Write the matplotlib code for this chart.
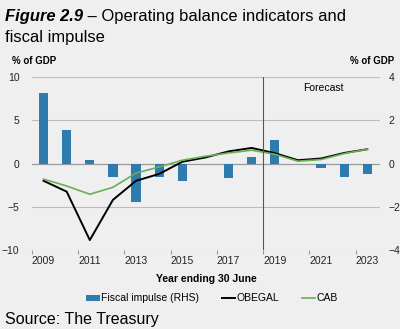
import numpy as np
import matplotlib.pyplot as plt

plt.rcParams['font.family'] = ['Liberation Sans', 'DejaVu Sans']

# --- données ---
annees = [2009, 2010, 2011, 2012, 2013, 2014, 2015, 2016,
          2017, 2018, 2019, 2020, 2021, 2022, 2023]
impulsion = [3.28, 1.57, 0.18, -0.62, -1.77, -0.62, -0.80, 0.0,
             -0.69, 0.31, 1.08, 0.0, -0.20, -0.62, -0.50]      # % PIB (axe droit)
obegal = [-2.0, -3.25, -8.85, -4.2, -2.0, -1.2, 0.2, 0.7,
          1.4, 1.8, 1.2, 0.38, 0.58, 1.22, 1.65]               # % PIB (axe gauche)
cab = [-1.8, -2.6, -3.55, -2.75, -1.1, -0.4, 0.38, 0.84,
       1.22, 1.54, 1.07, 0.27, 0.46, 1.15, 1.65]
ticks_annees = [2009, 2011, 2013, 2015, 2017, 2019, 2021, 2023]

fond = '#EFEFEF'
bleu = '#2E7BAE'
vert = '#6AAE55'
grille = '#BDBDBD'

fig = plt.figure(figsize=(4.0, 3.29), dpi=100, facecolor=fond)
ax = fig.add_axes([0.08, 0.24, 0.87, 0.526])
ax2 = ax.twinx()

# barres sur l'axe droit
ax2.bar(annees, impulsion, width=0.4, color=bleu, label='Fiscal impulse (RHS)')
ax2.set_ylim(-4, 4)
ax2.set_yticks([-4, -2, 0, 2, 4])

# lignes sur l'axe gauche (devant les barres)
ax.set_zorder(ax2.get_zorder() + 1)
ax.patch.set_visible(False)
ax2.set_facecolor(fond)
ax.plot(annees, obegal, color='black', lw=1.4, label='OBEGAL')
ax.plot(annees, cab, color=vert, lw=1.2, label='CAB')
ax.set_ylim(-10, 10)
ax.set_yticks([-10, -5, 0, 5, 10])
ax.set_xlim(2008.5, 2023.55)
ax.set_xticks(ticks_annees)
ax.set_xticks(np.arange(2008.5, 2024, 2), minor=True)

for a in (ax, ax2):
    for s in a.spines.values():
        s.set_visible(False)
    a.tick_params(axis='both', which='both', length=0, labelsize=7.5, colors='#222222')

ax.tick_params(axis='y', pad=9)
ax2.tick_params(axis='y', pad=6)

for v in [-10, -5, 5, 10]:
    ax2.axhline(v * 0.4, color=grille, lw=0.8, zorder=0)
ax2.axhline(0, color='#9A9A9A', lw=0.9, zorder=0.5)
ax.tick_params(axis='x', which='minor', length=3, direction='out', color='#9A9A9A',
               width=0.8)
ax.tick_params(axis='x', pad=4)
ax.xaxis.set_ticks_position('bottom')

# ligne prévision
ax.axvline(2018.5, color='#555555', lw=0.8)
ax.text(2021.1, 8.7, 'Forecast', fontsize=7.5, ha='center', va='center')

ax.set_xlabel('Year ending 30 June', fontsize=7.5, fontweight='bold', labelpad=6)
fig.text(0.03, 0.805, '% of GDP', fontsize=7, fontweight='bold')
fig.text(0.985, 0.805, '% of GDP', fontsize=7, fontweight='bold', ha='right')

# titre
t1 = fig.text(0.012, 0.935, 'Figure 2.9', fontsize=11.9, fontweight='bold', style='italic')
fig.canvas.draw()
plt.annotate(' – Operating balance indicators and', xy=(1, 0), xycoords=t1,
             fontsize=11.9, va='bottom')
fig.text(0.012, 0.873, 'fiscal impulse', fontsize=11.9)
fig.text(0.012, 0.015, 'Source: The Treasury', fontsize=11.5)

h1, l1 = ax2.get_legend_handles_labels()
h2, l2 = ax.get_legend_handles_labels()
fig.legend(h1 + h2, l1 + l2, loc='center', bbox_to_anchor=(0.53, 0.093), ncol=3,
           frameon=False, fontsize=7.5, handlelength=1.3, handleheight=0.5,
           handletextpad=0.1, columnspacing=2.2)

plt.savefig('out.png', dpi=100, facecolor=fond)
